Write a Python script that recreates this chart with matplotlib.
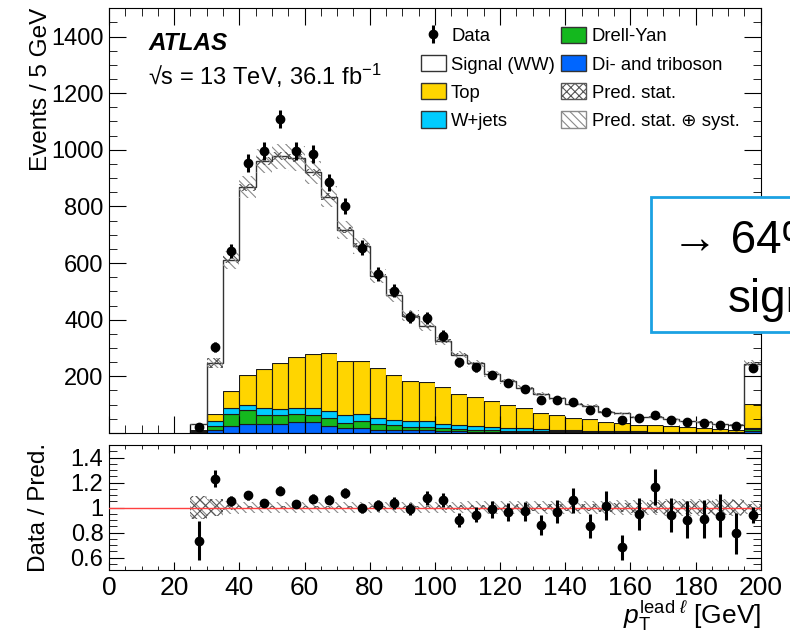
import numpy as np
import matplotlib
matplotlib.use('Agg')
import matplotlib.pyplot as plt
from matplotlib.patches import Patch, Rectangle
from matplotlib.ticker import MultipleLocator, FuncFormatter

plt.rcParams['font.family'] = ['Liberation Sans', 'DejaVu Sans']
plt.rcParams['mathtext.fontset'] = 'custom'
plt.rcParams['mathtext.rm'] = 'Liberation Sans'
plt.rcParams['mathtext.it'] = 'Liberation Sans:italic'
plt.rcParams['mathtext.bf'] = 'Liberation Sans:bold'
plt.rcParams['hatch.linewidth'] = 0.8

# 5 GeV bins, 25-200 GeV (last bin includes overflow)
edges = np.arange(25, 201, 5)
centers = edges[:-1] + 2.5

data = [22, 303, 643, 953, 997, 1109, 997, 986, 886, 803, 655, 562, 503, 409, 406,
        344, 249, 232, 205, 176, 155, 118, 118, 110, 82, 75, 47, 53, 65, 46,
        37, 35, 29, 23, 229]

diboson = [1, 9, 23, 32, 32, 32, 40, 38, 24, 18, 18, 12, 9, 9, 9,
           7, 6, 5, 5, 4, 4, 3, 3, 3, 2, 2, 2, 2, 1.5, 1.5,
           1.2, 1, 1, 1, 6]
drell_yan = [2, 17, 44, 48, 33, 33, 27, 27, 29, 17, 23, 20, 18, 13, 13,
             10, 7, 6, 5, 4, 4, 3, 3, 2.5, 2, 2, 1.5, 1.5, 1.2, 1,
             1, 1, 0.8, 0.8, 8]
wjets = [5, 17, 21, 20, 23, 21, 21, 23, 23, 27, 26, 21, 20, 21, 19,
         14, 14, 13.5, 10, 9.5, 9.5, 9, 5.6, 4, 3.5, 3, 3, 2.5, 2, 2,
         1.5, 1.5, 1.2, 1, 2]
top = [2, 24, 61, 103, 139, 161, 180, 192, 206, 191, 188, 176, 159, 141, 139,
       130, 110, 101, 92, 82, 69, 55.5, 53, 43.5, 40.5, 31.7, 28.5, 23, 22.3, 19,
       16.3, 14, 12, 9.2, 86]
signal = [20, 179, 462, 665, 733, 730, 702, 640, 553, 465, 405, 324, 280, 230, 197,
          164, 139, 120.5, 96, 83.5, 73.5, 66.5, 57.4, 51, 48, 35.3, 34, 27, 29, 25.5,
          21, 21, 16, 17, 142]

# relative uncertainties on the prediction
stat_rel = [0.09, 0.07, 0.02, 0.015, 0.015, 0.015, 0.015, 0.015, 0.015, 0.015,
            0.015, 0.015, 0.015, 0.015, 0.015, 0.02, 0.02, 0.02, 0.02, 0.02,
            0.025, 0.025, 0.025, 0.03, 0.03, 0.035, 0.035, 0.04, 0.045, 0.05,
            0.05, 0.055, 0.06, 0.06, 0.03]
syst_rel = [0.09, 0.07, 0.05, 0.045, 0.045, 0.045, 0.045, 0.045, 0.045, 0.045,
            0.045, 0.045, 0.045, 0.045, 0.045, 0.045, 0.045, 0.05, 0.05, 0.05,
            0.05, 0.05, 0.05, 0.055, 0.055, 0.055, 0.06, 0.06, 0.06, 0.065,
            0.065, 0.065, 0.07, 0.07, 0.05]

colors = {'Top': '#ffd500', 'W+jets': '#00ccff', 'Drell-Yan': '#14b81e',
          'Di- and triboson': '#0066ff'}

data = np.array(data, dtype=float)
stat_rel = np.array(stat_rel)
syst_rel = np.array(syst_rel)

fig = plt.figure(figsize=(7.9, 6.33), dpi=100)
ax = fig.add_axes([0.138, 0.316, 0.825, 0.671])
rax = fig.add_axes([0.138, 0.0995, 0.825, 0.1975])

# stacked backgrounds
bottom = np.zeros(len(centers))
for vals, name in [(diboson, 'Di- and triboson'), (drell_yan, 'Drell-Yan'),
                   (wjets, 'W+jets'), (top, 'Top')]:
    ax.bar(edges[:-1], vals, width=5, align='edge', bottom=bottom,
           color=colors[name], edgecolor='#1a1a1a', linewidth=0.8)
    bottom = bottom + np.array(vals)
ax.bar(edges[:-1], signal, width=5, align='edge', bottom=bottom,
       color='white', linewidth=0)
total = bottom + np.array(signal)
ax.stairs(total, edges, color='#333333', linewidth=1.0, baseline=0)


def band(a, center, rel, hatch, color):
    lo = center * (1 - rel)
    hi = center * (1 + rel)
    a.fill_between(edges, np.append(lo, lo[-1]), np.append(hi, hi[-1]),
                   step='post', facecolor='none', edgecolor=color,
                   hatch=hatch, linewidth=0, zorder=3)


band(ax, total, syst_rel, '\\\\\\\\', '#8a8a8a')
band(ax, total, stat_rel, 'xxx', '#555555')

data_h = ax.errorbar(centers, data, yerr=np.sqrt(data), fmt='o', color='black',
                     ms=6, elinewidth=2.2, capsize=0, zorder=5)

# ratio panel
ratio = data / total
rerr = np.sqrt(data) / total
ones = np.ones(len(centers))
band(rax, ones, syst_rel, '\\\\\\\\', '#8a8a8a')
band(rax, ones, stat_rel, 'xxx', '#555555')
rax.axhline(1, color='#ff4040', linewidth=1.0, zorder=4)
rax.errorbar(centers, ratio, yerr=rerr, fmt='o', color='black', ms=6,
             elinewidth=2.2, capsize=0, zorder=5)

# axes styling
ax.set_xlim(0, 200)
ax.set_ylim(0, 1500)
ax.xaxis.set_major_locator(MultipleLocator(20))
ax.xaxis.set_minor_locator(MultipleLocator(5))
ax.yaxis.set_major_locator(MultipleLocator(200))
ax.yaxis.set_minor_locator(MultipleLocator(50))
ax.yaxis.set_major_formatter(FuncFormatter(lambda v, p: '' if v == 0 else '%d' % v))
ax.tick_params(which='both', direction='in', top=True, right=True,
               labelbottom=False, labelsize=17, pad=4)
ax.tick_params(which='major', length=12)
ax.tick_params(which='minor', length=6)
ax.set_ylabel('Events / 5 GeV', fontsize=17.5)
ax.yaxis.set_label_coords(-0.088, 1.0)
ax.yaxis.label.set_horizontalalignment('right')

rax.set_xlim(0, 200)
rax.set_ylim(0.5, 1.5)
rax.xaxis.set_major_locator(MultipleLocator(20))
rax.xaxis.set_minor_locator(MultipleLocator(5))
rax.yaxis.set_major_locator(MultipleLocator(0.2))
rax.yaxis.set_minor_locator(MultipleLocator(0.05))
rax.yaxis.set_major_formatter(FuncFormatter(lambda v, p: '%g' % round(v, 2)))
rax.tick_params(which='both', direction='in', top=True, right=True)
rax.tick_params(axis='x', which='major', length=5.5, labelsize=19, pad=4)
rax.tick_params(axis='x', which='minor', length=2.7)
rax.tick_params(axis='y', which='major', length=11, labelsize=17, pad=4)
rax.tick_params(axis='y', which='minor', length=5.5)
rax.set_ylabel('Data / Pred.', fontsize=17.5)
rax.yaxis.set_label_coords(-0.09, 1.02)
rax.yaxis.label.set_horizontalalignment('right')
fig.text(761 / 790, 1 - 624 / 633, r'$p_{\mathrm{T}}^{\mathrm{lead}\ \ell}$ [GeV]',
         fontsize=19, ha='right', va='baseline')

# labels
fig.text(148 / 790, 1 - 50 / 633, 'ATLAS', fontsize=17.5, weight='bold',
         style='italic', va='baseline')
fig.text(148 / 790, 1 - 85 / 633, '√s = 13 TeV, 36.1 fb$^{-1}$', fontsize=17,
         va='baseline')

handles = [data_h,
           Patch(facecolor='white', edgecolor='#333333', lw=1),
           Patch(facecolor=colors['Top'], edgecolor='#333333', lw=1),
           Patch(facecolor=colors['W+jets'], edgecolor='#333333', lw=1),
           Patch(facecolor=colors['Drell-Yan'], edgecolor='#333333', lw=1),
           Patch(facecolor=colors['Di- and triboson'], edgecolor='#333333', lw=1),
           Patch(facecolor='white', edgecolor='#555555', hatch='xxxx', lw=1),
           Patch(facecolor='white', edgecolor='#8a8a8a', hatch='\\\\\\\\', lw=1)]
labels = ['Data', 'Signal (WW)', 'Top', 'W+jets', 'Drell-Yan', 'Di- and triboson',
          'Pred. stat.', 'Pred. stat. ⊕ syst.']
fig.legend(handles, labels, ncol=2, loc='upper left',
           bbox_to_anchor=(421 / 790, 1 - 27 / 633), frameon=False, fontsize=13.3,
           borderpad=0, borderaxespad=0, handlelength=1.33, handleheight=0.98,
           handletextpad=0.3, columnspacing=0.35, labelspacing=0.52)

# slide overlay box on the right
fig.add_artist(Rectangle((651 / 790, 1 - 332 / 633), 0.3, 135 / 633,
                         transform=fig.transFigure, facecolor='white',
                         edgecolor='#1ba1e2', linewidth=2, zorder=10))
fig.text(672 / 790, 1 - 253 / 633, '→ 64%', fontsize=33, va='baseline',
         zorder=11)
fig.text(728 / 790, 1 - 312 / 633, 'signal', fontsize=33, va='baseline',
         zorder=11)

fig.savefig('out.png', dpi=100)
